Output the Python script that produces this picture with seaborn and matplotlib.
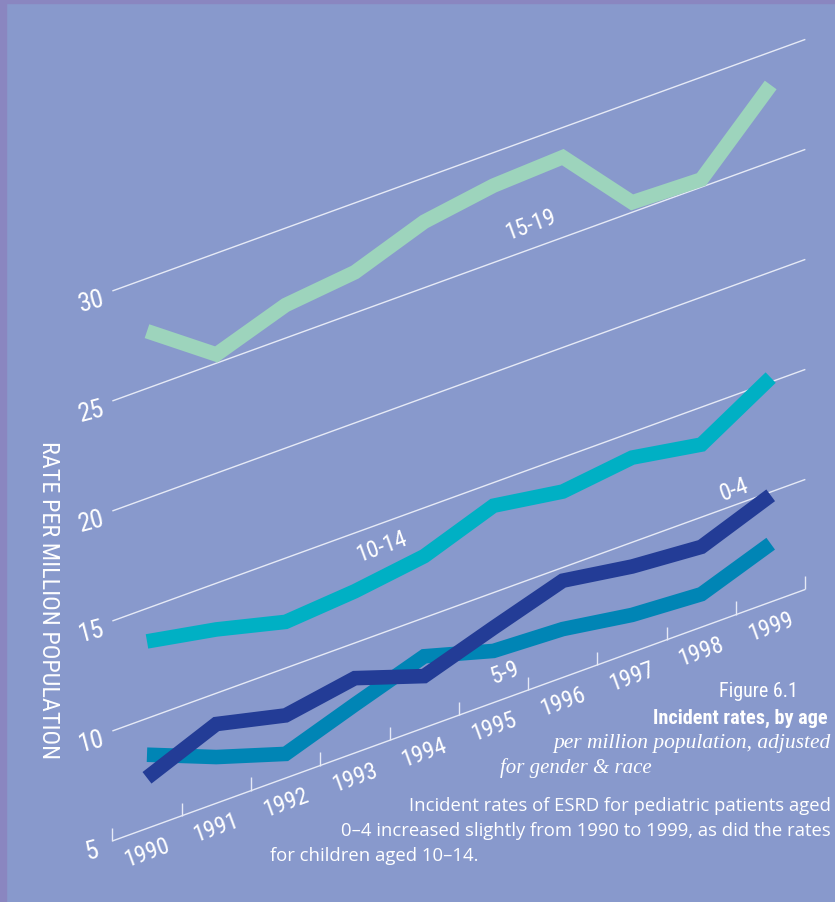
import matplotlib
matplotlib.use('Agg')
import matplotlib.pyplot as plt
import matplotlib.font_manager as fm
from matplotlib.patches import Rectangle
from matplotlib.transforms import Affine2D
import pandas as pd
import seaborn as sns

# values (rate per million population)
years = [1990, 1991, 1992, 1993, 1994, 1995, 1996, 1997, 1998, 1999]
rate_15_19 = [27.6, 25.4, 26.5, 26.85, 28.0, 28.5, 28.65, 25.45, 25.35, 28.5]
rate_10_14 = [13.5, 12.9, 12.1, 12.35, 12.8, 13.95, 13.45, 13.85, 13.3, 15.2]
rate_5_9 = [8.35, 7.1, 6.1, 7.2, 8.25, 7.35, 7.2, 6.7, 6.5, 7.65]
rate_0_4 = [7.3, 8.6, 7.85, 8.4, 7.35, 8.4, 9.4, 8.9, 8.65, 9.85]

age_groups = ['15-19', '10-14', '5-9', '0-4']
age_colors = ['#9dd4bc', '#00b0c4', '#0085b5', '#233c96']
grid_values = [5, 10, 15, 20, 25, 30]

BG = '#8899cc'
BORDER = '#8a86c0'
GRID = '#e6eaf6'

available = {f.name for f in fm.fontManager.ttflist}


def pick(*names):
    for n in names:
        if n in available:
            return n
    return 'DejaVu Sans'


NARROW = pick('Liberation Sans Narrow', 'Roboto Condensed', 'Open Sans Condensed', 'Liberation Sans')
SANS = pick('Open Sans', 'Lato', 'Liberation Sans')
SERIF = pick('Liberation Serif', 'DejaVu Serif')

df = pd.DataFrame({
    'year': years * 4,
    'rate': rate_15_19 + rate_10_14 + rate_5_9 + rate_0_4,
    'age': [a for a in age_groups for _ in years],
})

W, H = 835, 903
fig = plt.figure(figsize=(W / 100, H / 100), dpi=100, facecolor=BG)
ax = fig.add_axes([0, 0, 1, 1])
ax.set_facecolor(BG)

# oblique look: every year step lifts the value scale a bit
k = 1.1434
skew = Affine2D().from_values(1, k, 0, 1, 0, -k * 1989.5) + ax.transData

ax.hlines(grid_values, 1989.5, 1999.5, colors=GRID, linewidth=1.0, transform=skew)
ax.vlines([y - 0.5 for y in years] + [1999.5], 5, 5.6, colors=GRID, linewidth=1.0,
          transform=skew)

sns.lineplot(data=df, x='year', y='rate', hue='age', hue_order=age_groups,
             palette=age_colors, linewidth=10.5, legend=False, ax=ax, transform=skew,
             solid_capstyle='butt', solid_joinstyle='miter')

ax.set_xlim(1987.879, 1999.928)
ax.set_ylim(2.227, 43.27)
ax.set_axis_off()

# value labels at the start of each gridline
for v in grid_values:
    ax.annotate(str(v), xy=(1989.5, v), xycoords=skew, xytext=(-15, -7),
                textcoords='offset points', ha='center', va='center', rotation=15,
                color='white', fontsize=19, family=NARROW)

# year labels under the slanted axis
for y in years:
    ax.annotate(str(y), xy=(y, 5), xycoords=skew, xytext=(0, -17),
                textcoords='offset points', ha='center', va='center', rotation=20,
                color='white', fontsize=17, family=NARROW)

# series labels
label_pos = {'15-19': (1995.53, 26.15), '10-14': (1993.38, 13.97),
             '5-9': (1995.17, 6.2), '0-4': (1998.47, 10.74)}
for name, (x, v) in label_pos.items():
    ax.annotate(name, xy=(x, v), xycoords=skew, ha='center', va='center',
                rotation=20, color='white', fontsize=17, family=NARROW)

fig.text(48 / W, 1 - 600 / H, 'RATE PER MILLION POPULATION', rotation=-90,
         ha='center', va='center', color='white', fontsize=17.5, family=NARROW)

# caption block
fig.text(798 / W, 1 - 692 / H, 'Figure 6.1', ha='right', va='center',
         color='white', fontsize=14.5, family=NARROW)
fig.text(828 / W, 1 - 718 / H, 'Incident rates, by age', ha='right', va='center',
         color='white', fontsize=14.6, family=NARROW, fontweight='bold')
fig.text(831 / W, 1 - 744 / H, 'per million population, adjusted', ha='right',
         va='center', color='white', fontsize=15.5, family=SERIF, style='italic')
fig.text(500 / W, 1 - 768 / H, 'for gender & race', ha='left', va='center',
         color='white', fontsize=15, family=SERIF, style='italic')
fig.text(831 / W, 1 - 806 / H, 'Incident rates of ESRD for pediatric patients aged',
         ha='right', va='center', color='white', fontsize=13.3, family=SANS)
fig.text(831 / W, 1 - 831 / H,
         '0\u20134 increased slightly from 1990 to 1999, as did the rates',
         ha='right', va='center', color='white', fontsize=13.3, family=SANS)
fig.text(270 / W, 1 - 856 / H, 'for children aged 10\u201314.', ha='left',
         va='center', color='white', fontsize=13.3, family=SANS)

# thin frame strips on the left and top
fig.add_artist(Rectangle((0, 0), 6 / W, 1, transform=fig.transFigure,
                         color=BORDER, zorder=10))
fig.add_artist(Rectangle((0, 1 - 4 / H), 1, 4 / H, transform=fig.transFigure,
                         color=BORDER, zorder=10))

fig.savefig('out.png', dpi=100, facecolor=BG)
